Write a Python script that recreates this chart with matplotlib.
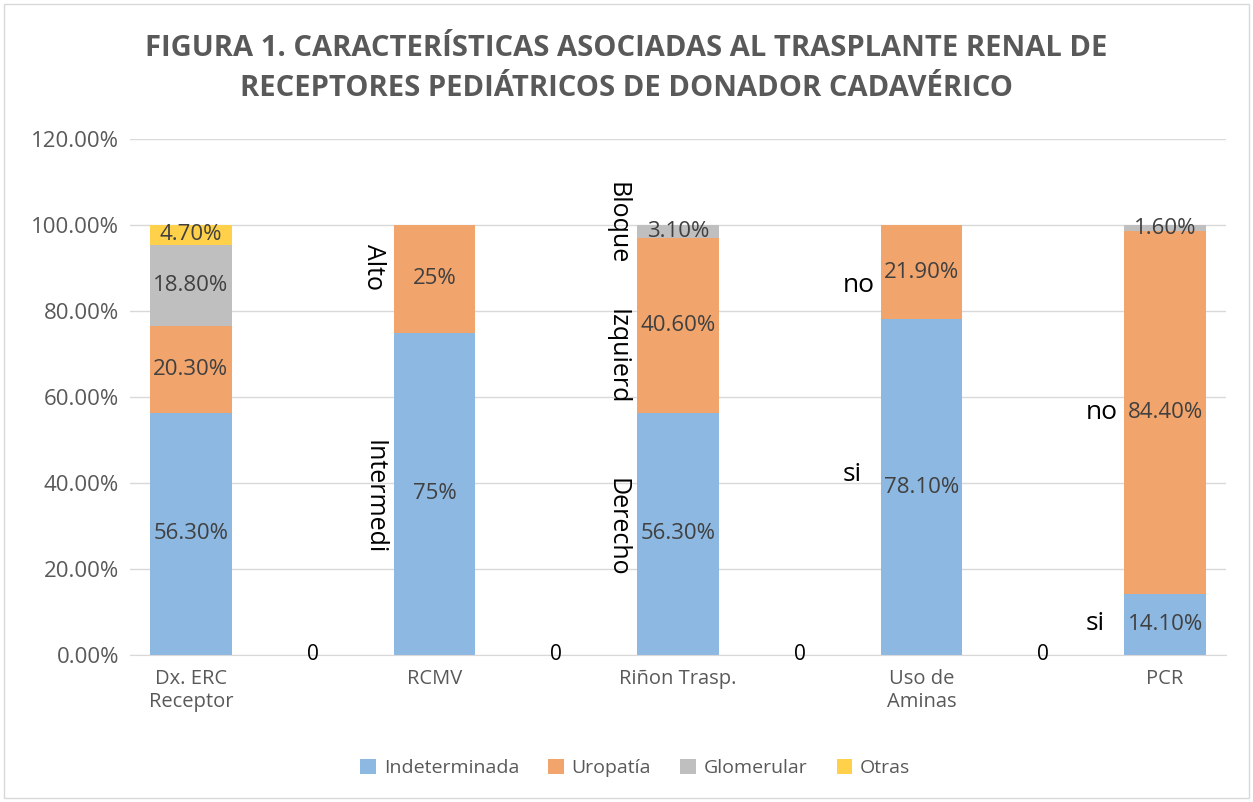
import matplotlib.pyplot as plt
import numpy as np

plt.rcParams['font.family'] = ['Open Sans', 'DejaVu Sans']

categories = ["Dx. ERC\nReceptor", "", "RCMV", "", "Riñon Trasp.", "", "Uso de\nAminas", "", "PCR"]
series_names = ["Indeterminada", "Uropatía", "Glomerular", "Otras"]
indeterminada = [56.3, 0, 75.0, 0, 56.3, 0, 78.1, 0, 14.1]
uropatia = [20.3, 0, 25.0, 0, 40.6, 0, 21.9, 0, 84.4]
glomerular = [18.8, 0, 0, 0, 3.1, 0, 0, 0, 1.6]
otras = [4.7, 0, 0, 0, 0, 0, 0, 0, 0]
label_text = {
    "Indeterminada": ["56.30%", None, "75%", None, "56.30%", None, "78.10%", None, "14.10%"],
    "Uropatía": ["20.30%", None, "25%", None, "40.60%", None, "21.90%", None, "84.40%"],
    "Glomerular": ["18.80%", None, None, None, "3.10%", None, None, None, "1.60%"],
    "Otras": ["4.70%", None, None, None, None, None, None, None, None],
}
gap_labels = ["0", "0", "0", "0"]
gap_idx = [1, 3, 5, 7]
# category annotations: (category index, text, y value, rotated)
annotations = [
    (2, "Alto", 90.2, True), (2, "Intermedi", 36.7, True),
    (4, "Bloque", 100.5, True), (4, "Izquierd", 69.3, True), (4, "Derecho", 29.8, True),
    (6, "no", 86.0, False), (6, "si", 41.9, False),
    (8, "no", 56.5, False), (8, "si", 7.4, False),
]
colors = ["#8db8e2", "#f1a46c", "#bfbfbf", "#ffd14a"]

fig = plt.figure(figsize=(12.53, 8.02), dpi=100)
ax = fig.add_axes([130 / 1253, 1 - 655 / 802, 1096 / 1253, 516 / 802])

x = np.arange(len(categories))
bottom = np.zeros(len(categories))
for name, vals, col in zip(series_names, [indeterminada, uropatia, glomerular, otras], colors):
    vals = np.array(vals)
    ax.bar(x, vals, 0.67, bottom=bottom, color=col, label=name, zorder=2)
    for i, t in enumerate(label_text[name]):
        if t is not None:
            ax.text(x[i], bottom[i] + vals[i] / 2, t, ha="center", va="center",
                    fontsize=16, color="#404040", zorder=3)
    bottom += vals

for i, t in zip(gap_idx, gap_labels):
    ax.text(x[i], 0, t, ha="center", va="center", fontsize=15, color="black")

for i, t, y, rot in annotations:
    if rot:
        ax.text(x[i] - 0.5, y, t, ha="center", va="center", rotation=270,
                fontsize=18, color="black")
    else:
        ax.text(x[i] - 0.65, y, t, ha="left", va="center", fontsize=19, color="black")

ax.set_xlim(-0.5, len(categories) - 0.5)
ax.set_ylim(0, 120)
ax.set_yticks(np.arange(0, 121, 20))
ax.set_yticklabels([f"{v:.2f}%" for v in np.arange(0, 121, 20)], fontsize=16, color="#595959")
ax.set_xticks(x)
ax.set_xticklabels(categories, fontsize=14.5, color="#595959")
ax.tick_params(axis="y", length=0, pad=8)
ax.tick_params(axis="x", length=0, pad=10)
ax.grid(axis="y", color="#d9d9d9", linewidth=1, zorder=0)
for s in ["top", "right", "left"]:
    ax.spines[s].set_visible(False)
ax.spines["bottom"].set_color("#d9d9d9")

fig.text(0.5, 1 - 68 / 802,
         "FIGURA 1. CARACTERÍSTICAS ASOCIADAS AL TRASPLANTE RENAL DE\nRECEPTORES PEDIÁTRICOS DE DONADOR CADAVÉRICO",
         ha="center", va="center", fontsize=21, fontweight="bold", color="#595959", linespacing=1.5)

leg = fig.legend(loc="center", bbox_to_anchor=(0.507, 1 - 768 / 802), ncol=4, frameon=False,
                 fontsize=14, handlelength=0.8, handleheight=0.8, columnspacing=1.5, handletextpad=0.4)
for t in leg.get_texts():
    t.set_color("#595959")

fig.patches.append(plt.Rectangle((4 / 1253, 4 / 802), 1 - 8 / 1253, 1 - 8 / 802, transform=fig.transFigure,
                                 fill=False, edgecolor="#d9d9d9", linewidth=1))

fig.savefig("out.png", dpi=100)
